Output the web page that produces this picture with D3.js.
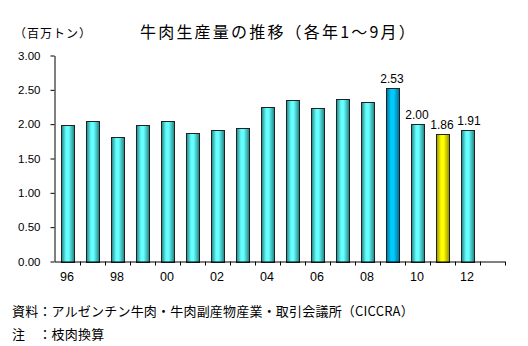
<!DOCTYPE html>
<html><head><meta charset="utf-8">
<script src="https://cdn.jsdelivr.net/npm/d3@7"></script>
<style>
body{margin:0;background:#fff;}
svg{display:block;}
</style></head>
<body>
<svg id="c" width="528" height="346"></svg>
<script>
const years = ["96","97","98","99","00","01","02","03","04","05","06","07","08","09","10","11","12","13"];
const values = [1.99,2.05,1.81,1.99,2.04,1.87,1.91,1.94,2.25,2.35,2.24,2.37,2.33,2.53,2.00,1.86,1.91];
const tickLabels = ["96","98","00","02","04","06","08","10","12"];
const labeled = ["09","10","11","12"];
const yTicks = [0,0.5,1,1.5,2,2.5,3];
const titleText = "牛肉生産量の推移（各年1～9月）";
const unitText = "（百万トン）";
const sourceText = "資料：アルゼンチン牛肉・牛肉副産物産業・取引会議所（CICCRA）";
const noteText = "注　：枝肉換算";

const svg = d3.select("#c");
const x = d3.scaleBand().domain(years).range([54.5,504.5]);
const y = d3.scaleLinear().domain([0,3]).range([261.5,55.5]);

const defs = svg.append("defs");
function grad(id, dark, light){
  const g = defs.append("linearGradient").attr("id",id).attr("x1","0").attr("x2","1").attr("y1","0").attr("y2","0");
  g.append("stop").attr("offset","0%").attr("stop-color",dark);
  g.append("stop").attr("offset","35%").attr("stop-color",light);
  g.append("stop").attr("offset","55%").attr("stop-color",light);
  g.append("stop").attr("offset","100%").attr("stop-color",dark);
}
grad("gC","#217f7f","#66ffff");
grad("gB","#006f94","#00ccff");
grad("gY","#8f8f00","#ffff00");

const barW = 13;
const data = values.map((v,i)=>({year:years[i], v}));
svg.append("g").selectAll("rect").data(data).join("rect")
  .attr("x", d=>Math.round(x(d.year)+x.bandwidth()/2-barW/2)+0.5)
  .attr("y", d=>Math.round(y(d.v))+0.5)
  .attr("width", barW)
  .attr("height", d=>Math.round(y(0))-Math.round(y(d.v)))
  .attr("fill", d=>d.year==="09"?"url(#gB)":d.year==="11"?"url(#gY)":"url(#gC)")
  .attr("stroke","#222").attr("stroke-width",1);

// Y axis
const ya = svg.append("g").attr("transform","translate(54.5,0)")
  .call(d3.axisLeft(y).tickValues(yTicks).tickFormat(d3.format(".2f")).tickSize(4).tickSizeOuter(0));
ya.select(".domain").attr("stroke","#000");
ya.selectAll(".tick line").attr("stroke","#000");
ya.selectAll("text").attr("font-family","Liberation Sans, Arial, sans-serif").attr("font-size","11.5px").attr("fill","#000").attr("x",-14);

// X axis
const xa = svg.append("g").attr("transform","translate(0,261.5)")
  .call(d3.axisBottom(x).tickValues([]).tickSizeOuter(0));
xa.select(".domain").attr("stroke","#000");
const bounds = years.map(d=>x(d)).concat([x(years[years.length-1])+x.bandwidth()]);
xa.selectAll("line.tb").data(bounds.slice(1)).join("line").attr("class","tb")
  .attr("x1",d=>Math.round(d)+0.5).attr("x2",d=>Math.round(d)+0.5).attr("y1",0).attr("y2",4).attr("stroke","#000");
xa.selectAll("text.lb").data(tickLabels).join("text").attr("class","lb")
  .attr("x",d=>x(d)+x.bandwidth()/2).attr("y",19)
  .attr("text-anchor","middle").attr("font-family","Liberation Sans, Arial, sans-serif").attr("font-size","12.5px").attr("fill","#000")
  .text(d=>d);

// data labels
svg.append("g").selectAll("text").data(data.filter(d=>labeled.includes(d.year))).join("text")
  .attr("x", d=>x(d.year)+x.bandwidth()/2 + (d.year==="12"?2:0))
  .attr("y", d=>y(d.v)-5)
  .attr("text-anchor","middle").attr("font-family","Liberation Sans, Arial, sans-serif").attr("font-size","12px").attr("fill","#000")
  .text(d=>d.v.toFixed(2));

// titles
svg.append("text").attr("x",140).attr("y",38).attr("font-family","Noto Sans CJK JP").attr("font-size","16px").attr("letter-spacing","2.2px").attr("fill","#000").text(titleText);
svg.append("text").attr("x",14).attr("y",38).attr("font-family","Noto Sans CJK JP").attr("font-size","12px").attr("letter-spacing","1px").attr("fill","#000").text(unitText);
svg.append("text").attr("x",12).attr("y",316).attr("font-family","Noto Sans CJK JP").attr("font-size","13px").attr("letter-spacing","0.2px").attr("fill","#000").text(sourceText);
svg.append("text").attr("x",12).attr("y",339).attr("font-family","Noto Sans CJK JP").attr("font-size","13px").attr("letter-spacing","0.2px").attr("fill","#000").text(noteText);
</script>
</body></html>
